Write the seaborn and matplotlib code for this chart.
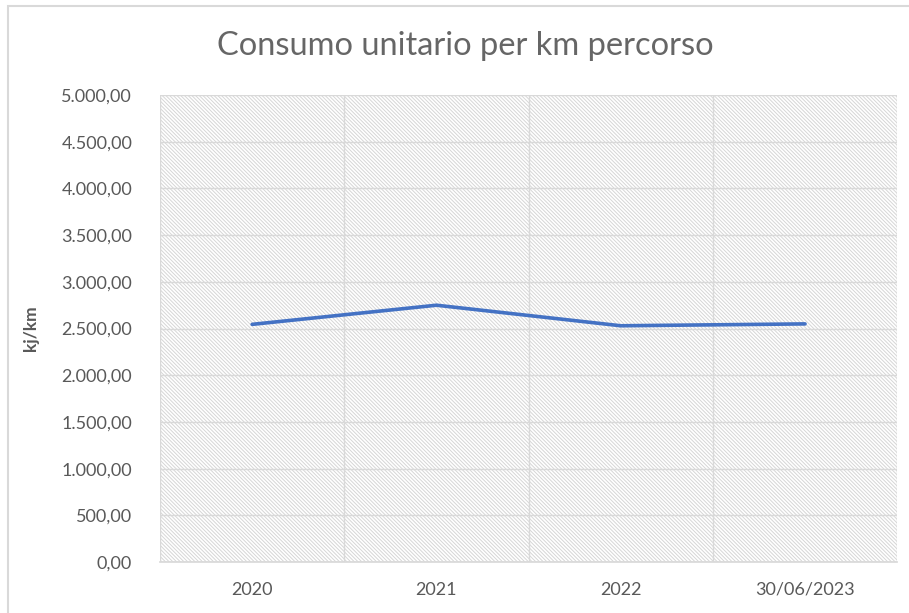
import matplotlib
matplotlib.use("Agg")
import matplotlib.pyplot as plt
import matplotlib.ticker as mticker
from matplotlib.patches import Rectangle
import seaborn as sns
import pandas as pd

# data
periods = ["2020", "2021", "2022", "30/06/2023"]
consumo = [2545, 2750, 2530, 2550]
y_ticks = [0, 500, 1000, 1500, 2000, 2500, 3000, 3500, 4000, 4500, 5000]

df = pd.DataFrame({"periodo": periods, "consumo": consumo})

sns.set_theme(style="white")
plt.rcParams["font.family"] = ["Lato", "DejaVu Sans"]
plt.rcParams["hatch.linewidth"] = 0.7

grey = "#595959"
gridc = "#D9D9D9"

fig = plt.figure(figsize=(9.09, 6.13), dpi=100)
ax = fig.add_axes([0.176, 0.083, 0.811, 0.762])

# hatched plot area
ax.add_patch(Rectangle((0, 0), 1, 1, transform=ax.transAxes, facecolor="white",
                       edgecolor="#D6D6D6", linewidth=0, hatch="\\" * 9, zorder=0))

sns.lineplot(data=df, x="periodo", y="consumo", ax=ax, color="#4472C4",
             linewidth=2.6, sort=False, zorder=3)

ax.set_xlim(-0.5, len(periods) - 0.5)
ax.set_ylim(0, 5000)
ax.set_yticks(y_ticks)
ax.yaxis.set_major_formatter(mticker.FuncFormatter(
    lambda v, p: f"{v:,.2f}".replace(",", "X").replace(".", ",").replace("X", ".")))
ax.set_xticks(range(len(periods)))
ax.set_xticklabels(periods)
ax.set_xticks([i - 0.5 for i in range(len(periods) + 1)], minor=True)

ax.grid(axis="y", which="major", color=gridc, linewidth=1)
ax.grid(axis="x", which="minor", color=gridc, linewidth=1)
ax.grid(axis="x", which="major", visible=False)
ax.set_axisbelow(True)
for s in ax.spines.values():
    s.set_visible(False)
ax.spines["bottom"].set_visible(True)
ax.spines["bottom"].set_color(gridc)

ax.tick_params(axis="both", which="both", length=0, labelsize=13, colors=grey)
ax.tick_params(axis="y", pad=20)
ax.tick_params(axis="x", pad=14)
ax.set_xlabel("")
ax.set_ylabel("kj/km", fontsize=12.5, fontweight="bold", color=grey, labelpad=16)

fig.text(0.512, 0.925, "Consumo unitario per km percorso", ha="center", va="center",
         fontsize=23.5, color="#666666")

# chart border
fig.patches.append(Rectangle((8 / 909, -0.01), 1.0, 1.0 - 6 / 613 + 0.01,
                             transform=fig.transFigure, facecolor="none",
                             edgecolor="#D9D9D9", linewidth=1.5))

fig.savefig("out.png", dpi=100)
